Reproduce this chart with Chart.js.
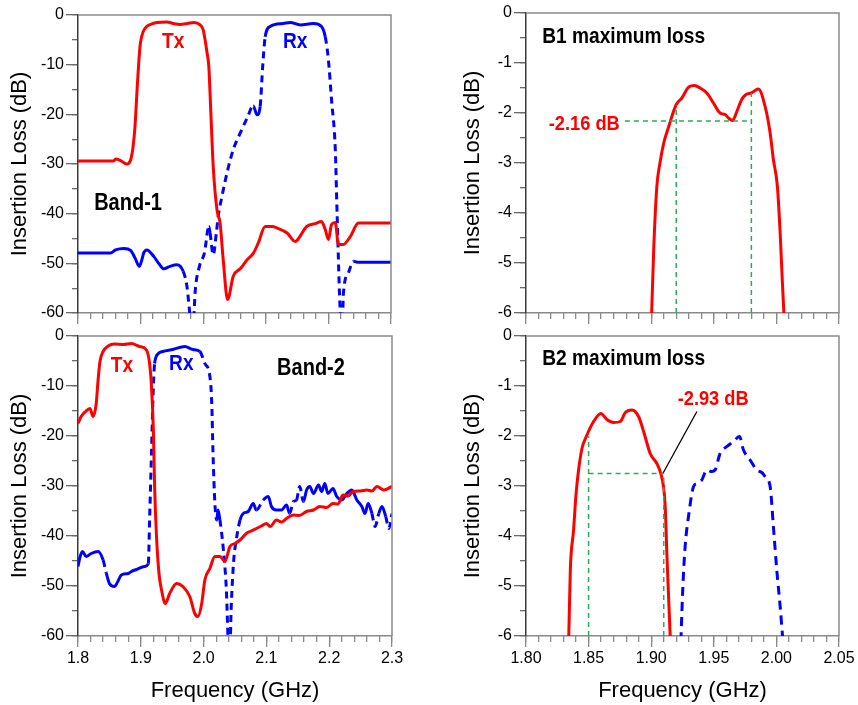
<!DOCTYPE html>
<html>
<head>
<meta charset="utf-8">
<script src="https://cdn.jsdelivr.net/npm/chart.js@4.4.1/dist/chart.umd.min.js"></script>
<style>
    body { margin: 0; background: #fff; }
    #wrap { position: relative; width: 858px; height: 705px; overflow: hidden; background: #fff; }
    canvas { position: absolute; }
</style>
</head>
<body>
<div id="wrap">
    <canvas id="band1" width="429" height="330" style="left:0;top:0"></canvas>
    <canvas id="band2" width="429" height="385" style="left:0;top:320px"></canvas>
    <canvas id="b1loss" width="429" height="330" style="left:429px;top:0"></canvas>
    <canvas id="b2loss" width="429" height="385" style="left:429px;top:320px"></canvas>
</div>
<script>
// Band-1 wide view (GHz, dB)
const band1TxFreq = [1.800, 1.857, 1.860, 1.868, 1.878, 1.884, 1.888, 1.891, 1.895, 1.899, 1.904, 1.910, 1.918, 1.926, 1.942, 1.952, 1.963, 1.975, 1.985, 1.995, 2.000, 2.003, 2.006, 2.009, 2.012, 2.016, 2.022, 2.027, 2.032, 2.039, 2.048, 2.060, 2.070, 2.080, 2.088, 2.099, 2.110, 2.118, 2.134, 2.147, 2.155, 2.165, 2.179, 2.189, 2.195, 2.200, 2.205, 2.211, 2.216, 2.224, 2.235, 2.248, 2.300];
const band1TxLoss = [-29.4, -29.4, -29.0, -29.3, -30.0, -29.2, -26.5, -22.5, -13.7, -6.4, -3.4, -2.3, -1.8, -1.5, -1.4, -1.7, -1.9, -1.7, -1.5, -2.0, -3.0, -5.0, -7.5, -10.4, -19.0, -30.5, -39.2, -41.9, -49.3, -57.3, -52.6, -51.0, -49.3, -48.0, -45.9, -42.6, -42.6, -42.9, -43.9, -45.6, -44.5, -42.6, -42.0, -41.6, -43.2, -45.2, -42.2, -41.8, -46.2, -46.2, -44.6, -41.9, -41.9];
const band1RxFreq = [1.800, 1.852, 1.860, 1.873, 1.884, 1.891, 1.898, 1.902, 1.905, 1.910, 1.921, 1.930, 1.937, 1.947, 1.958, 1.968, 1.974, 1.979, 1.982, 1.985, 1.987, 1.994, 2.002, 2.009, 2.011, 2.016, 2.021, 2.024, 2.030, 2.038, 2.048, 2.059, 2.070, 2.080, 2.086, 2.091, 2.095, 2.099, 2.107, 2.128, 2.139, 2.155, 2.176, 2.189, 2.195, 2.200, 2.205, 2.211, 2.214, 2.219, 2.222, 2.224, 2.232, 2.240, 2.248, 2.300];
const band1RxLoss = [-47.9, -47.9, -47.3, -47.0, -47.4, -48.9, -50.6, -49.3, -47.9, -47.3, -48.6, -50.2, -51.1, -50.6, -50.3, -51.6, -54.6, -60.5, -63, -61, -56, -50.6, -47.9, -42.6, -43.9, -48.3, -43.9, -40.5, -36.5, -31.8, -27.1, -23.8, -20.8, -18.3, -20.1, -18.4, -10.4, -4.4, -2.3, -1.7, -1.5, -2.0, -1.7, -2.3, -4.4, -9.0, -17.1, -27.1, -40.5, -60, -63, -56, -51.9, -49.6, -49.8, -49.8];

// Band-2 wide view
const band2TxFreq = [1.800, 1.805, 1.812, 1.819, 1.824, 1.829, 1.832, 1.835, 1.840, 1.848, 1.858, 1.872, 1.885, 1.898, 1.909, 1.914, 1.917, 1.920, 1.922, 1.925, 1.929, 1.933, 1.939, 1.946, 1.957, 1.967, 1.978, 1.986, 1.991, 1.997, 2.002, 2.010, 2.018, 2.026, 2.034, 2.042, 2.050, 2.058, 2.068, 2.076, 2.084, 2.092, 2.100, 2.106, 2.116, 2.124, 2.132, 2.143, 2.152, 2.164, 2.175, 2.185, 2.196, 2.206, 2.214, 2.222, 2.230, 2.238, 2.250, 2.260, 2.268, 2.276, 2.287, 2.300];
const band2TxLoss = [-17.5, -16.1, -15.1, -14.5, -16.1, -13.5, -8.8, -5.1, -3.1, -2.0, -1.6, -1.7, -1.5, -2.1, -2.8, -5.5, -10.1, -18.8, -30.1, -40.1, -47.5, -50.8, -53.5, -51.5, -49.5, -50.1, -52.1, -55.5, -56.1, -53.5, -48.8, -46.5, -44.1, -44.1, -45.1, -42.1, -41.5, -40.8, -39.5, -39.0, -38.5, -38.0, -37.5, -38.1, -36.8, -37.2, -36.5, -35.8, -35.9, -35.1, -34.8, -34.1, -34.3, -33.5, -33.6, -31.8, -32.0, -31.1, -31.0, -30.8, -31.0, -30.1, -30.8, -30.1];
const band2RxFreq = [1.800, 1.803, 1.807, 1.813, 1.821, 1.832, 1.840, 1.845, 1.850, 1.858, 1.863, 1.869, 1.880, 1.885, 1.893, 1.906, 1.912, 1.914, 1.917, 1.920, 1.922, 1.928, 1.935, 1.951, 1.970, 1.983, 1.994, 2.002, 2.010, 2.013, 2.015, 2.018, 2.021, 2.023, 2.026, 2.031, 2.036, 2.040, 2.042, 2.044, 2.048, 2.052, 2.058, 2.063, 2.071, 2.079, 2.084, 2.095, 2.103, 2.108, 2.116, 2.124, 2.132, 2.137, 2.143, 2.148, 2.153, 2.159, 2.164, 2.169, 2.175, 2.183, 2.188, 2.193, 2.198, 2.206, 2.212, 2.220, 2.228, 2.236, 2.244, 2.252, 2.257, 2.262, 2.268, 2.273, 2.279, 2.284, 2.290, 2.295, 2.300];
const band2RxLoss = [-46.1, -44.3, -43.1, -44.1, -43.5, -43.1, -44.8, -47.4, -49.5, -50.1, -49.2, -47.8, -47.5, -47.1, -46.7, -46.1, -45.5, -36.8, -23.5, -10.1, -5.5, -3.5, -3.1, -2.7, -2.1, -2.7, -3.1, -5.5, -8.1, -13.5, -23.5, -33.5, -36.8, -34.8, -36.8, -42.1, -50.1, -62, -62, -54.1, -44.8, -40.8, -36.8, -35.5, -35.1, -33.5, -34.8, -32.8, -32.1, -34.1, -34.8, -34.8, -33.8, -35.5, -33.1, -32.8, -30.1, -33.1, -30.8, -30.1, -31.5, -29.8, -31.1, -29.5, -31.5, -30.5, -32.1, -32.8, -31.5, -30.8, -32.8, -34.1, -35.5, -33.5, -35.5, -38.1, -35.5, -34.1, -36.1, -38.5, -35.5];

// Zoomed passbands
const b1TxFreq = [1.9000, 1.9020, 1.9045, 1.9070, 1.9100, 1.9140, 1.9200, 1.9245, 1.9300, 1.9346, 1.9390, 1.9444, 1.9497, 1.9550, 1.9590, 1.9617, 1.9650, 1.9684, 1.9723, 1.9758, 1.9800, 1.9856, 1.9910, 1.9950, 1.9976, 2.0008, 2.0030, 2.0048, 2.0062];
const b1TxLoss = [-6.3, -4.73, -3.47, -3.0, -2.6, -2.27, -1.83, -1.70, -1.48, -1.45, -1.50, -1.60, -1.80, -2.00, -2.03, -2.10, -2.15, -1.97, -1.73, -1.63, -1.60, -1.52, -1.87, -2.40, -2.93, -3.47, -4.40, -5.40, -6.1];
const b2TxFreq = [1.8340, 1.8354, 1.8380, 1.8400, 1.8420, 1.8447, 1.8487, 1.8540, 1.8598, 1.8646, 1.8700, 1.8753, 1.8793, 1.8846, 1.8899, 1.8944, 1.8992, 1.9045, 1.9077, 1.9098, 1.9112, 1.9125, 1.9141, 1.9155];
const b2TxLoss = [-6.2, -4.68, -3.88, -3.15, -2.68, -2.25, -1.98, -1.71, -1.55, -1.67, -1.73, -1.71, -1.53, -1.48, -1.61, -1.95, -2.35, -2.55, -2.75, -3.01, -3.41, -4.35, -5.35, -6.2];
const b2RxFreq = [1.9237, 1.9253, 1.9271, 1.9298, 1.9338, 1.9364, 1.9404, 1.9444, 1.9484, 1.9510, 1.9550, 1.9604, 1.9657, 1.9705, 1.9737, 1.9790, 1.9843, 1.9883, 1.9910, 1.9950, 1.9976, 2.0003, 2.0030, 2.0052];
const b2RxLoss = [-6.1, -5.01, -4.21, -3.61, -3.01, -2.95, -2.88, -2.68, -2.71, -2.68, -2.35, -2.21, -2.11, -2.01, -2.28, -2.48, -2.68, -2.73, -2.81, -3.01, -3.81, -4.68, -5.41, -6.1];

// Marker guides (null breaks the line)
const b1GuideFreq = [1.92, 1.92, 1.92, 1.98, 1.98, 1.98, 1.879, 1.98];
const b1GuideLoss = [-6, -1.85, null, -6, -1.60, null, -2.16, -2.16];
const b2GuideFreq = [1.85, 1.85, 1.85, 1.91, 1.91, 1.91, 1.85, 1.91];
const b2GuideLoss = [-6, -2.0, null, -6, -2.75, null, -2.75, -2.75];
const b2PointerFreq = [1.9093, 1.9365];
const b2PointerLoss = [-2.75, -1.51];

// Tick ranges
const wideFreqRange = [1.8, 2.3, 0.1];
const wideLossRange = [-60, 0, 10];
const zoomFreqRange = [1.80, 2.05, 0.05];
const zoomLossRange = [-6, 0, 1];

const RED = '#ff0000';
const BLUE = '#0000ff';
const GREEN = '#2aae55';
const FONT = "'Liberation Sans', Arial, sans-serif";

Chart.defaults.font.family = FONT;
Chart.defaults.color = '#000';

function pts(xs, ys) {
    return xs.map((x, i) => ({ x: x, y: ys[i] }));
}

function steps(min, max, step) {
    const out = [];
    const n = Math.round((max - min) / step);
    for (let i = 0; i <= n; i++) out.push(+(min + i * step).toFixed(4));
    return out;
}

// dashed on long steep pieces, solid where the trace is flat or finely wiggly
const steepDash = {
    borderDash: ctx => {
        const dx = Math.abs(ctx.p1.x - ctx.p0.x);
        const dy = Math.abs(ctx.p1.y - ctx.p0.y);
        return (dy > 1.2 * dx && Math.hypot(dx, dy) > 12) ? [7, 5] : undefined;
    }
};

const framePlugin = {
    id: 'frame',
    afterDatasetsDraw(chart) {
        const a = chart.chartArea;
        const ctx = chart.ctx;
        ctx.save();
        ctx.strokeStyle = '#8a8a8a';
        ctx.lineWidth = 1.5;
        ctx.beginPath();
        ctx.moveTo(a.left, a.top);
        ctx.lineTo(a.right, a.top);
        ctx.lineTo(a.right, a.bottom);
        ctx.stroke();
        ctx.restore();
    }
};

const textPlugin = {
    id: 'notes',
    afterDraw(chart, args, opts) {
        const ctx = chart.ctx;
        (opts.items || []).forEach(t => {
            const x = chart.scales.x.getPixelForValue(t.x);
            const y = chart.scales.y.getPixelForValue(t.y);
            ctx.save();
            ctx.font = 'bold ' + (t.size || 22) + 'px ' + FONT;
            ctx.fillStyle = t.color;
            ctx.textAlign = t.align || 'center';
            ctx.textBaseline = 'middle';
            ctx.translate(x, y);
            ctx.scale(0.87, 1);
            ctx.fillText(t.text, 0, 0);
            ctx.restore();
        });
    }
};

function makeScales(p) {
    const [xMin, xMax, xStep] = p.xRange;
    const [yMin, yMax, yStep] = p.yRange;
    const xMajor = steps(xMin, xMax, xStep);
    const xMinor = steps(xMin, xMax, xStep / 5);
    const yMajor = steps(yMin, yMax, yStep);
    const yMinor = steps(yMin, yMax, yStep / 2);
    return {
        x: {
            type: 'linear', position: 'bottom', weight: 1,
            min: xMin, max: xMax,
            border: { color: '#8a8a8a', width: 1.5 },
            grid: { drawOnChartArea: false, tickLength: 11, color: '#8a8a8a', lineWidth: 1.3 },
            ticks: {
                display: p.xLabels, autoSkip: false, maxRotation: 0, padding: 2,
                font: { size: 16 }, color: '#000',
                callback: v => v.toFixed(p.xDigits)
            },
            afterBuildTicks: s => { s.ticks = xMajor.map(v => ({ value: v })); },
            title: {
                display: p.xLabels, text: 'Frequency (GHz)',
                font: { size: 22 }, color: '#000', padding: { top: 0, bottom: 1 }
            },
            afterFit: s => { s.height = p.xH; }
        },
        xMinor: {
            type: 'linear', position: 'bottom', weight: 0,
            min: xMin, max: xMax,
            border: { display: false },
            grid: { drawOnChartArea: false, tickLength: 6, color: '#8a8a8a', lineWidth: 1.3 },
            ticks: { display: false },
            afterBuildTicks: s => { s.ticks = xMinor.map(v => ({ value: v })); },
            afterFit: s => { s.height = 0; }
        },
        y: {
            type: 'linear', position: 'left', weight: 1,
            min: yMin, max: yMax,
            border: { color: '#3a3a3a', width: 1.5 },
            grid: { drawOnChartArea: false, tickLength: 12, color: '#6a6a6a', lineWidth: 1.3 },
            ticks: { autoSkip: false, padding: 2, font: { size: 16 }, color: '#000' },
            afterBuildTicks: s => { s.ticks = yMajor.map(v => ({ value: v })); },
            title: {
                display: true, text: 'Insertion Loss (dB)',
                font: { size: 22 }, color: '#000', padding: { top: p.yTitlePad, bottom: 0 }
            },
            afterFit: s => { s.width = p.yW; }
        },
        yMinor: {
            type: 'linear', position: 'left', weight: 0,
            min: yMin, max: yMax,
            border: { display: false },
            grid: { drawOnChartArea: false, tickLength: 6, color: '#6a6a6a', lineWidth: 1.3 },
            ticks: { display: false },
            afterBuildTicks: s => { s.ticks = yMinor.map(v => ({ value: v })); },
            afterFit: s => { s.width = 0; }
        }
    };
}

function makeChart(id, datasets, p, notes) {
    return new Chart(document.getElementById(id), {
        type: 'line',
        data: { datasets: datasets },
        options: {
            responsive: false,
            animation: false,
            devicePixelRatio: 1,
            layout: { padding: p.pad },
            elements: {
                point: { radius: 0 },
                line: { cubicInterpolationMode: 'monotone', borderCapStyle: 'butt', borderJoinStyle: 'round' }
            },
            plugins: { legend: { display: false }, tooltip: { enabled: false }, notes: { items: notes } },
            scales: makeScales(p)
        },
        plugins: [framePlugin, textPlugin]
    });
}

function curve(xs, ys, color, extra) {
    return Object.assign({ data: pts(xs, ys), borderColor: color, borderWidth: 3, fill: false }, extra || {});
}

const straight = { cubicInterpolationMode: 'default', tension: 0 };

const wide = { xRange: wideFreqRange, yRange: wideLossRange, xDigits: 1, yW: 78, yTitlePad: 7 };
const zoom = { xRange: zoomFreqRange, yRange: zoomLossRange, xDigits: 2, yW: 97, yTitlePad: 31 };

makeChart('band1', [
    curve(band1TxFreq, band1TxLoss, RED),
    curve(band1RxFreq, band1RxLoss, BLUE, { segment: steepDash })
], Object.assign({}, wide, { xLabels: false, xH: 17, pad: { left: 0, top: 15, right: 38, bottom: 0 } }), [
    { text: 'Tx', x: 1.952, y: -5.4, color: RED },
    { text: 'Rx', x: 2.147, y: -5.4, color: BLUE },
    { text: 'Band-1', x: 1.880, y: -38.0, color: '#000', size: 23 }
]);

makeChart('band2', [
    curve(band2TxFreq, band2TxLoss, RED),
    curve(band2RxFreq, band2RxLoss, BLUE, { segment: steepDash })
], Object.assign({}, wide, { xLabels: true, xH: 69, pad: { left: 0, top: 16, right: 37, bottom: 0 } }), [
    { text: 'Tx', x: 1.870, y: -5.9, color: RED },
    { text: 'Rx', x: 1.9645, y: -5.5, color: BLUE },
    { text: 'Band-2', x: 2.171, y: -6.6, color: '#000', size: 23 }
]);

makeChart('b1loss', [
    curve(b1GuideFreq, b1GuideLoss, GREEN, Object.assign({ borderWidth: 1.5, borderDash: [5, 4] }, straight)),
    curve(b1TxFreq, b1TxLoss, RED)
], Object.assign({}, zoom, { xLabels: false, xH: 17, pad: { left: 0, top: 13, right: 19, bottom: 0 } }), [
    { text: 'B1 maximum loss', x: 1.813, y: -0.48, color: '#000', align: 'left', size: 22 },
    { text: '-2.16 dB', x: 1.8465, y: -2.22, color: RED, size: 21 }
]);

makeChart('b2loss', [
    curve(b2GuideFreq, b2GuideLoss, GREEN, Object.assign({ borderWidth: 1.5, borderDash: [5, 4] }, straight)),
    curve(b2PointerFreq, b2PointerLoss, '#000', Object.assign({ borderWidth: 1.3 }, straight)),
    curve(b2TxFreq, b2TxLoss, RED),
    curve(b2RxFreq, b2RxLoss, BLUE, { borderDash: [9, 6] })
], Object.assign({}, zoom, { xLabels: true, xH: 69, pad: { left: 0, top: 16, right: 19, bottom: 0 } }), [
    { text: 'B2 maximum loss', x: 1.813, y: -0.45, color: '#000', align: 'left', size: 22 },
    { text: '-2.93 dB', x: 1.9495, y: -1.27, color: RED, size: 21 }
]);
</script>
</body>
</html>
